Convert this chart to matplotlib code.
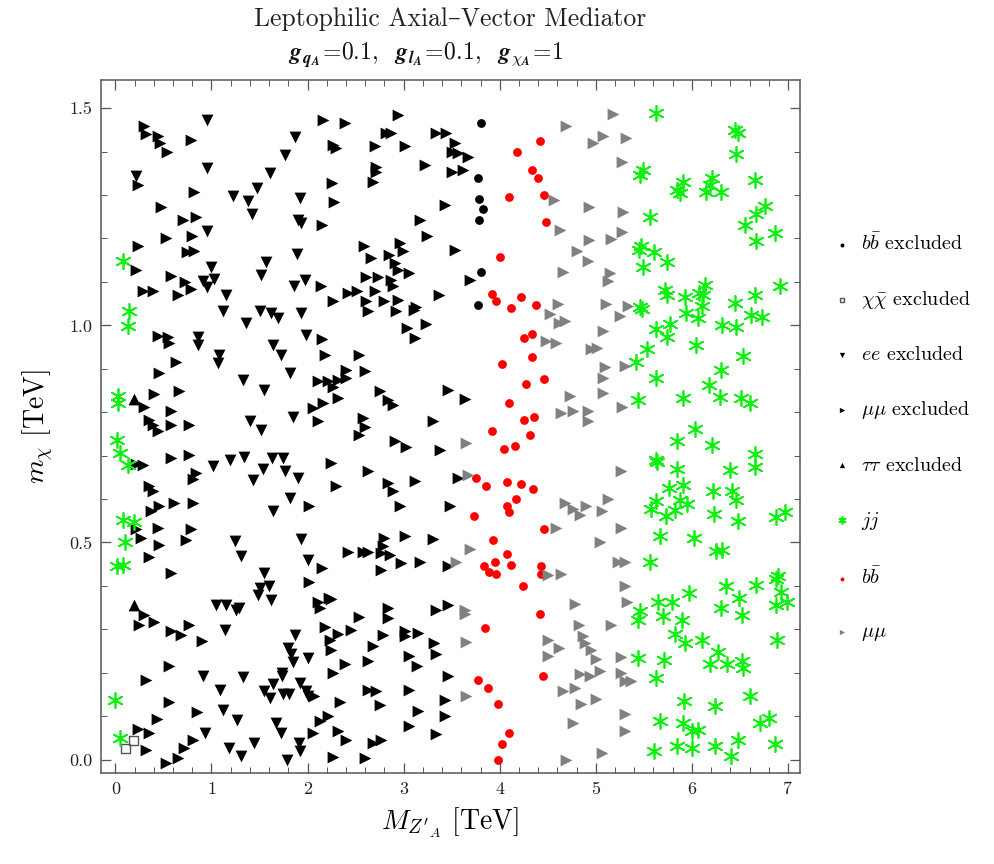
import numpy as np
import matplotlib
matplotlib.use("Agg")
import matplotlib.pyplot as plt
from matplotlib.ticker import MultipleLocator, FormatStrFormatter
from matplotlib.mathtext import MathTextParser

plt.rcParams['font.family'] = ['cmr10', 'DejaVu Serif']
plt.rcParams['mathtext.fontset'] = 'cm'
plt.rcParams['axes.formatter.use_mathtext'] = True

# ---- data (TeV): (M_Z'A, m_chi) per category ----
mumu_excl = [
    (0.30,1.46),(0.32,1.44),(0.44,1.435),(0.46,1.42),(0.54,1.40),(0.79,1.427),(0.23,1.323),(0.82,1.308),
    (0.475,1.273),(0.70,1.243),(0.84,1.25),(0.53,1.20),(0.80,1.205),(0.23,1.182),(0.75,1.17),(0.82,1.172),
    (0.215,1.128),(0.58,1.114),(0.72,1.099),(0.79,1.083),(0.65,1.07),(0.285,1.08),(0.39,1.08),(2.14,1.09),
    (2.26,1.057),(2.16,1.473),(2.26,1.415),(2.30,1.408),(2.25,1.327),(2.28,1.285),(2.15,1.231),
    (2.385,1.465),(2.94,1.484),(2.82,1.442),(2.87,1.442),(2.70,1.412),(3.01,1.412),(3.34,1.442),(3.44,1.444),
    (3.53,1.421),(3.50,1.40),(3.57,1.398),(3.67,1.387),(3.22,1.369),(2.715,1.364),(2.715,1.354),(2.68,1.331),
    (3.50,1.352),(3.62,1.358),(3.43,1.277),(3.17,1.243),(3.24,1.206),(2.59,1.182),(2.66,1.155),(2.96,1.189),
    (2.99,1.172),(2.85,1.162),(2.905,1.143),(2.94,1.128),(3.53,1.174),(2.61,1.112),(2.73,1.111),(2.87,1.105),
    (2.89,1.09),(3.06,1.12),(3.69,1.105),(2.42,1.074),(2.51,1.08),(2.70,1.078),(3.37,1.07),(2.61,1.055),
    (2.80,1.055),(2.94,1.059),(3.13,1.043),
    (0.44,0.976),(0.545,0.974),(0.56,0.96),(0.63,0.915),(0.458,0.891),(0.406,0.842),(0.666,0.848),(0.30,0.813),
    (0.58,0.802),(0.354,0.782),(0.39,0.771),(0.44,0.756),(0.58,0.771),(0.77,0.771),(0.58,0.694),(0.77,0.702),
    (0.215,0.681),(0.285,0.679),(0.84,0.66),(0.805,0.645),(0.354,0.631),(0.39,0.618),(0.458,0.585),(0.615,0.591),
    (0.805,0.592),(0.37,0.572),(0.44,0.533),(0.215,0.531),(0.267,0.51),(0.788,0.53),(0.735,0.506),(2.02,0.583),
    (2.107,0.779),(2.055,0.81),(2.16,0.821),(2.107,0.871),(2.21,0.871),(2.186,0.932),(2.15,0.968),
    (2.63,1.032),(2.92,1.032),(3.11,1.036),(3.03,0.993),(3.235,1.003),(3.115,0.97),(2.54,0.932),(2.593,0.894),
    (2.40,0.898),(2.40,0.878),(2.316,0.875),(2.264,0.859),(2.316,0.832),(2.75,0.848),(2.837,0.829),(2.89,0.817),
    (3.46,0.852),(3.635,0.83),(2.576,0.786),(2.593,0.767),(2.54,0.748),(3.305,0.779),(2.906,0.733),(3.027,0.72),
    (3.375,0.713),(2.246,0.683),(2.628,0.664),(2.298,0.629),(2.837,0.638),(2.89,0.618),(3.114,0.641),(3.565,0.648),
    (2.958,0.583),(3.479,0.585),(2.80,0.51),(3.01,0.516),(3.305,0.508),
    (0.458,0.493),(0.347,0.466),(0.58,0.43),(0.30,0.334),(0.25,0.31),(0.406,0.316),(0.58,0.295),(0.684,0.288),
    (0.763,0.31),(0.90,0.272),(0.555,0.216),(0.32,0.183),(0.555,0.133),(0.43,0.094),(0.847,0.109),(0.232,0.07),
    (0.347,0.061),(0.32,0.022),(0.527,-0.009),(0.649,0.004),(0.718,0.027),(0.805,0.046),(2.013,0.41),(2.15,0.441),
    (2.107,0.364),(2.125,0.349),(2.22,0.372),(2.177,0.305),(2.23,0.276),(2.245,0.253),(2.26,0.199),(2.07,0.146),
    (2.055,0.061),(2.125,0.088),(2.21,0.1),(2.26,0.006),
    (2.42,0.479),(2.576,0.477),(2.628,0.479),(2.784,0.491),(2.767,0.476),(2.853,0.47),(2.767,0.436),(2.975,0.453),
    (3.166,0.456),(3.46,0.446),(2.246,0.37),(2.836,0.349),(2.836,0.326),(2.54,0.328),(3.34,0.345),(3.46,0.357),
    (2.455,0.299),(2.316,0.29),(2.785,0.288),(3.01,0.295),(3.01,0.284),(3.15,0.291),(2.68,0.262),(3.32,0.269),
    (3.34,0.242),(2.385,0.219),(2.628,0.226),(3.06,0.238),(3.14,0.216),(3.46,0.193),(2.628,0.161),(2.715,0.157),
    (3.06,0.16),(2.333,0.133),(2.75,0.125),(3.149,0.111),(3.427,0.138),(3.427,0.101),(3.06,0.078),(2.316,0.065),
    (2.403,0.046),(2.68,0.038),(2.767,0.046),(3.34,0.058),(2.593,0.004),
]

ee_excl = [
    (0.95,1.473),(1.87,1.433),(1.76,1.392),(1.61,1.35),(0.95,1.362),(1.47,1.316),(1.22,1.298),(1.38,1.287),
    (1.92,1.293),(1.42,1.257),(1.90,1.243),(1.93,1.235),(0.95,1.218),(1.89,1.165),(1.57,1.147),(0.997,1.135),
    (1.52,1.116),(1.03,1.106),(0.91,1.101),(0.95,1.088),(1.86,1.09),(1.97,1.105),(1.15,1.07),(0.21,1.343),
    (1.118,1.032),(1.50,1.032),(1.62,1.028),(1.69,1.016),(1.93,1.028),(1.36,1.005),(1.985,0.978),(0.857,0.974),
    (0.857,0.955),(1.638,0.955),(1.72,0.932),(1.083,0.932),(1.066,0.913),(1.818,0.891),(1.326,0.875),(1.545,0.85),
    (1.846,0.79),(1.40,0.779),(1.517,0.76),(1.014,0.677),(1.194,0.69),(1.343,0.696),(1.63,0.694),(1.74,0.694),
    (1.76,0.664),(1.534,0.669),(1.437,0.643),(1.90,0.648),(1.818,0.602),(1.638,0.572),(1.24,0.503),(1.93,0.508),
    (1.31,0.468),(2.0,0.459),(1.545,0.43),(1.60,0.399),(1.50,0.395),(1.48,0.38),(1.62,0.367),(1.048,0.357),
    (1.15,0.357),(1.256,0.345),(1.29,0.349),(1.145,0.298),(1.87,0.288),(1.795,0.257),(1.83,0.242),(1.846,0.224),
    (2.0,0.234),(1.735,0.2),(1.735,0.192),(1.325,0.19),(0.916,0.192),(1.09,0.16),(1.638,0.175),(1.55,0.157),
    (1.61,0.142),(1.74,0.15),(1.81,0.15),(1.917,0.177),(1.985,0.157),(2.0,0.146),(1.118,0.115),(1.264,0.092),
    (1.673,0.085),(1.725,0.061),(0.937,0.061),(1.447,0.037),(1.18,0.027),(1.308,0.008),(1.91,0.038),(1.917,0.019),
    (1.785,0.0),
]

tautau_excl = [(0.197,0.83),(0.197,0.355)]

bb_excl = [(3.80,1.467),(3.77,1.339),(3.785,1.29),(3.83,1.267),(3.785,1.243),(3.80,1.122),(3.77,1.046)]

chichi_excl = [(0.104,0.025),(0.19,0.044)]

jj = [
    (0.076,1.149),
    (5.63,1.488),(6.45,1.45),(6.48,1.444),(6.46,1.395),(5.49,1.358),(5.46,1.346),(5.91,1.329),(5.84,1.312),
    (5.88,1.304),(6.21,1.339),(6.19,1.323),(6.15,1.306),(6.30,1.308),(6.66,1.335),(6.76,1.275),(6.67,1.256),
    (6.55,1.23),(6.86,1.212),(6.67,1.195),(5.56,1.25),(5.47,1.183),(5.45,1.174),(5.61,1.168),(5.74,1.147),
    (5.49,1.134),(5.72,1.082),(5.74,1.07),(5.93,1.066),(6.07,1.074),(6.135,1.093),(6.12,1.07),(6.11,1.045),
    (6.45,1.051),(6.655,1.07),(6.92,1.091),(5.46,1.043),(5.48,1.037),
    (0.138,1.032),(0.128,0.999),(0.03,0.838),(0.03,0.822),(0.014,0.737),(0.048,0.706),(0.135,0.679),
    (0.083,0.551),(0.19,0.546),(0.104,0.50),
    (5.94,1.028),(6.065,1.016),(6.62,1.024),(6.725,1.02),(6.31,1.001),(6.46,0.996),(5.63,0.991),(5.77,1.003),
    (5.74,0.974),(5.53,0.945),(6.04,0.955),(6.535,0.93),(5.42,0.915),(5.63,0.878),(6.30,0.898),(6.18,0.863),
    (5.44,0.827),(5.91,0.832),(6.29,0.835),(6.51,0.832),(6.61,0.82),(6.03,0.761),(5.85,0.733),(6.205,0.725),
    (5.63,0.69),(5.64,0.686),(5.85,0.67),(6.40,0.668),(6.655,0.704),(6.655,0.674),(5.76,0.625),(5.91,0.633),
    (6.215,0.618),(6.42,0.619),(6.455,0.597),(5.63,0.595),(5.57,0.577),(5.875,0.598),(5.944,0.589),(5.82,0.575),
    (5.735,0.56),(6.23,0.566),(6.48,0.549),(6.875,0.559),(6.97,0.57),(5.67,0.514),(6.02,0.51),
    (0.014,0.446),(0.083,0.449),(0.0,0.137),(0.048,0.05),
    (6.255,0.48),(6.31,0.483),(5.56,0.454),(6.90,0.423),(6.875,0.416),(6.36,0.399),(6.67,0.403),(5.97,0.384),
    (6.93,0.385),(6.88,0.357),(6.985,0.364),(6.49,0.372),(6.30,0.349),(6.525,0.334),(5.65,0.362),(5.79,0.362),
    (5.46,0.341),(5.44,0.322),(5.695,0.331),(5.90,0.322),(5.82,0.29),(5.925,0.268),(6.11,0.275),(6.27,0.248),
    (6.19,0.219),(6.37,0.219),(6.52,0.226),(6.53,0.211),(6.89,0.275),(5.44,0.234),(5.71,0.229),(5.625,0.188),
    (6.60,0.147),(5.916,0.134),(6.24,0.124),(5.666,0.088),(5.91,0.084),(6.006,0.065),(6.06,0.069),(6.71,0.084),
    (6.80,0.096),(5.607,0.019),(5.84,0.031),(6.006,0.027),(6.24,0.031),(6.48,0.046),(6.41,0.009),(6.86,0.035),
]

bb = [
    (4.416,1.425),(4.18,1.399),(4.337,1.358),(4.40,1.339),(4.46,1.30),(4.093,1.295),(4.485,1.237),(4.006,1.158),
    (3.92,1.073),(3.965,1.057),(4.225,1.065),(4.12,1.04),(4.38,1.046),
    (4.25,0.97),(4.335,0.98),(4.335,0.928),(4.02,0.911),(4.276,0.866),(4.46,0.877),(4.093,0.822),(4.25,0.782),
    (4.353,0.79),(4.31,0.748),(3.92,0.756),(4.04,0.716),(4.155,0.721),(3.749,0.648),(3.86,0.629),(4.079,0.639),
    (4.225,0.635),(4.346,0.623),(4.166,0.601),(4.079,0.583),(4.10,0.569),(3.732,0.56),(4.46,0.531),(3.93,0.506),
    (4.08,0.473),(3.954,0.456),(4.113,0.449),(3.832,0.445),(3.884,0.432),(3.957,0.428),(4.43,0.445),(4.425,0.428),
    (4.24,0.399),(4.42,0.336),(3.843,0.303),(4.45,0.192),(3.77,0.184),(3.874,0.164),(3.982,0.129),(4.093,0.062),
    (4.027,0.036),(3.982,0.0),
]

mumu = [
    (4.57,1.289),(4.625,1.22),(4.607,1.05),
    (5.18,1.487),(4.69,1.458),(4.97,1.421),(5.08,1.436),(5.31,1.431),(5.27,1.377),(4.93,1.273),(5.28,1.26),
    (4.93,1.197),(5.16,1.198),(5.27,1.214),(4.80,1.172),(4.92,1.149),(4.66,1.122),(5.145,1.12),(5.13,1.101),
    (5.11,1.05),(5.34,1.045),
    (3.65,0.729),(3.67,0.656),(4.52,1.027),(4.62,1.005),(4.485,0.963),(4.59,0.96),(4.59,0.533),
    (5.25,1.022),(4.677,1.009),(5.076,0.986),(4.955,0.945),(5.01,0.948),(5.094,0.905),(5.076,0.878),(5.30,0.907),
    (4.73,0.838),(5.076,0.844),(5.27,0.813),(4.642,0.798),(4.764,0.802),(4.92,0.802),(4.92,0.779),(5.267,0.664),
    (4.677,0.591),(4.764,0.576),(4.833,0.564),(4.90,0.583),(5.06,0.572),(5.128,0.599),(5.267,0.533),
    (3.687,0.485),(3.55,0.454),(4.50,0.426),(4.64,0.428),(3.635,0.345),(3.635,0.336),(3.65,0.27),(4.50,0.276),
    (4.62,0.257),(4.50,0.238),(3.65,0.147),
    (5.04,0.50),(5.23,0.454),(5.30,0.454),(5.30,0.40),(4.78,0.359),(5.32,0.364),(4.83,0.311),(5.16,0.311),
    (4.868,0.285),(4.885,0.268),(4.955,0.253),(5.007,0.232),(5.267,0.236),(4.833,0.196),(4.937,0.193),(5.04,0.205),
    (5.267,0.2),(5.30,0.18),(5.37,0.18),(4.66,0.157),(4.78,0.165),(4.85,0.127),(5.007,0.14),(5.30,0.106),
    (4.764,0.084),(5.30,0.065),(5.06,0.014),(4.694,0.0),
]

labels = [r'$b\bar{b}$ excluded', r'$\chi\bar{\chi}$ excluded', r'$ee$ excluded', r'$\mu\mu$ excluded',
          r'$\tau\tau$ excluded', r'$jj$', r'$b\bar{b}$', r'$\mu\mu$']


def xy(pts):
    a = np.array(pts)
    return a[:, 0], a[:, 1]


fig = plt.figure(figsize=(9.94, 8.64), dpi=100)
ax = fig.add_axes([0.1016, 0.1053, 0.7032, 0.8021])

tri = 72
h_bbx = ax.scatter(*xy(bb_excl), s=40, marker='o', color='black', linewidths=0)
h_chi = ax.scatter(*xy(chichi_excl), s=40, marker='s', facecolors='none', edgecolors='#555555', linewidths=1.0)
h_ee = ax.scatter(*xy(ee_excl), s=tri, marker='v', color='black', linewidths=0)
h_mmx = ax.scatter(*xy(mumu_excl), s=tri, marker='>', color='black', linewidths=0)
h_tt = ax.scatter(*xy(tautau_excl), s=tri, marker='^', color='black', linewidths=0)
h_jj = ax.scatter(*xy(jj), s=120, marker=(6, 2, 0), color='#11ee11', linewidths=1.25)
h_bb = ax.scatter(*xy(bb), s=40, marker='o', color='#ff0000', linewidths=0)
h_mm = ax.scatter(*xy(mumu), s=tri, marker='>', color='#808080', linewidths=0)

ax.set_xlim(-0.15, 7.125)
ax.set_ylim(-0.031, 1.565)
ax.xaxis.set_major_locator(MultipleLocator(1))
ax.xaxis.set_minor_locator(MultipleLocator(0.2))
ax.yaxis.set_major_locator(MultipleLocator(0.5))
ax.yaxis.set_minor_locator(MultipleLocator(0.1))
ax.xaxis.set_major_formatter(FormatStrFormatter('%d'))
ax.yaxis.set_major_formatter(FormatStrFormatter('%.1f'))
ax.tick_params(which='both', direction='in', top=True, right=True, colors='#555555',
               labelcolor='#222222', labelsize=13)
ax.tick_params(which='major', length=7, width=0.9, pad=6)
ax.tick_params(which='minor', length=4, width=0.7)
for sp in ax.spines.values():
    sp.set_color('#555555')
    sp.set_linewidth(1.1)

ax.set_xlabel(r"$M_{Z'_A}$ [TeV]", fontsize=20, labelpad=7)
ax.set_ylabel(r"$m_{\chi}$ [TeV]", fontsize=20, labelpad=10)

try:
    MathTextParser('agg').parse(r'$\mathbfit{g}$')
    bfit = r'\mathbfit'
except Exception:
    bfit = r'\mathit'


def bi(s):
    return bfit + '{' + s + '}'


eq = r'\!\mathbf{=}\!'
line2 = ('$' + bi('g') + '_{' + bi('q') + '_{' + bi('A') + '}}' + eq + r'\mathbf{0.1,}\ \ '
         + bi('g') + '_{' + bi('l') + '_{' + bi('A') + '}}' + eq + r'\mathbf{0.1,}\ \ '
         + bi('g') + r'_{\chi_{' + bi('A') + '}}' + eq + r'\mathbf{1}$')

fig.text(0.4532, 1 - 19 / 864, 'Leptophilic Axial–Vector Mediator', ha='center', va='center',
         fontsize=18.5, color='#222222')
fig.text(0.4286, 1 - 55 / 864, line2, ha='center', va='center', fontsize=17, color='#111111')

handles = [h_bbx, h_chi, h_ee, h_mmx, h_tt, h_jj, h_bb, h_mm]
fig.legend(handles, labels, loc='upper left', bbox_to_anchor=(822 / 994, 1 - 223 / 864),
           frameon=False, fontsize=14.5, labelspacing=1.74, markerscale=0.45,
           handletextpad=0.45, handlelength=1.0, borderpad=0)

fig.savefig('out.png', dpi=100)
